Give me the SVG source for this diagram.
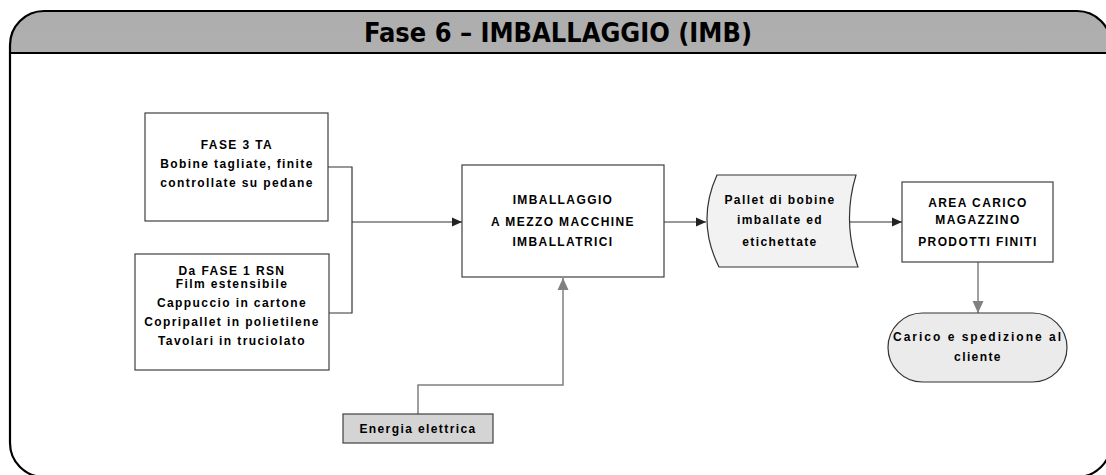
<svg xmlns="http://www.w3.org/2000/svg" width="1106" height="475" viewBox="0 0 1106 475">
<defs>
<linearGradient id="hdr" x1="0" y1="0" x2="0" y2="1">
<stop offset="0" stop-color="#adadad"/>
<stop offset="1" stop-color="#cacaca"/>
</linearGradient>
<clipPath id="hclip"><rect x="0" y="0" width="1106" height="53"/></clipPath>
<marker id="ab" markerWidth="11" markerHeight="11" refX="10" refY="5.5" orient="auto" markerUnits="userSpaceOnUse">
<path d="M0,1 L10,5.5 L0,10 Z" fill="#222"/>
</marker>
<marker id="ag" markerWidth="13" markerHeight="13" refX="12" refY="6.5" orient="auto" markerUnits="userSpaceOnUse">
<path d="M0,1 L12,6.5 L0,12 Z" fill="#808080"/>
</marker>
<style>
.box{fill:#fff;stroke:#404040;stroke-width:1.2}
.t{font-family:"Liberation Sans",Arial,sans-serif;font-size:12px;font-weight:bold;fill:#000;text-anchor:middle;letter-spacing:1.4px}
.c{fill:none;stroke:#333;stroke-width:1.2}
.g{fill:none;stroke:#808080;stroke-width:1.5}
</style>
</defs>
<g id="frame">
<rect x="10" y="11" width="1101" height="466" rx="34" ry="34" fill="url(#hdr)" clip-path="url(#hclip)"/>
<rect x="10" y="11" width="1101" height="466" rx="34" ry="34" fill="none" stroke="#000" stroke-width="2.2"/>
<line x1="10" y1="53" x2="1106" y2="53" stroke="#000" stroke-width="2.2"/>
<text x="558" y="42" font-family="'Liberation Sans Narrow','DejaVu Sans Condensed',sans-serif" font-size="26" font-weight="bold" text-anchor="middle" textLength="388" lengthAdjust="spacingAndGlyphs" fill="#000">Fase 6 – IMBALLAGGIO (IMB)</text>
</g>
<g id="connectors">
<polyline class="c" points="328,167 352,167 352,313 329,313"/>
<line class="c" x1="352" y1="222" x2="462" y2="222" marker-end="url(#ab)"/>
<line class="c" x1="664" y1="222" x2="706" y2="222" marker-end="url(#ab)"/>
<line class="c" x1="849" y1="222" x2="902" y2="222" marker-end="url(#ab)"/>
<line class="g" x1="978" y1="262" x2="978" y2="313" marker-end="url(#ag)"/>
<polyline class="g" points="418,414 418,385 563,385 563,278" marker-end="url(#ag)"/>
</g>
<g id="n-fase3">
<rect class="box" x="145" y="113" width="183" height="108"/>
<text class="t" x="237" y="149">FASE 3 TA</text>
<text class="t" x="237" y="168">Bobine tagliate, finite</text>
<text class="t" x="237" y="187">controllate su pedane</text>
</g>
<g id="n-fase1">
<rect class="box" x="135" y="254" width="194" height="116"/>
<text class="t" x="232" y="275">Da FASE 1 RSN</text>
<text class="t" x="232" y="288">Film estensibile</text>
<text class="t" x="232" y="307">Cappuccio in cartone</text>
<text class="t" x="232" y="326">Copripallet in polietilene</text>
<text class="t" x="232" y="345">Tavolari in truciolato</text>
</g>
<g id="n-imb">
<rect class="box" x="462" y="165" width="202" height="112"/>
<text class="t" x="563" y="204">IMBALLAGGIO</text>
<text class="t" x="563" y="226">A MEZZO MACCHINE</text>
<text class="t" x="563" y="246">IMBALLATRICI</text>
</g>
<g id="n-pallet">
<path d="M717,175 L856,175 Q842,221 858,267 L719,267 Q696,221 717,175 Z" fill="#f2f2f2" stroke="#333" stroke-width="1.2"/>
<text class="t" x="780" y="204">Pallet di bobine</text>
<text class="t" x="780" y="224">imballate ed</text>
<text class="t" x="780" y="246">etichettate</text>
</g>
<g id="n-area">
<rect class="box" x="902" y="182" width="151" height="80"/>
<text class="t" x="978" y="207">AREA CARICO</text>
<text class="t" x="978" y="224">MAGAZZINO</text>
<text class="t" x="978" y="246">PRODOTTI FINITI</text>
</g>
<g id="n-carico">
<rect x="888" y="313" width="179" height="69" rx="34.5" ry="34.5" fill="#ebebeb" stroke="#333" stroke-width="1.2"/>
<text class="t" x="978" y="341" style="letter-spacing:2px">Carico e spedizione al</text>
<text class="t" x="978" y="361">cliente</text>
</g>
<g id="n-energia">
<rect x="343" y="414" width="150" height="29" fill="#d4d4d4" stroke="#404040" stroke-width="1.2"/>
<text class="t" x="418" y="433">Energia elettrica</text>
</g>
</svg>
